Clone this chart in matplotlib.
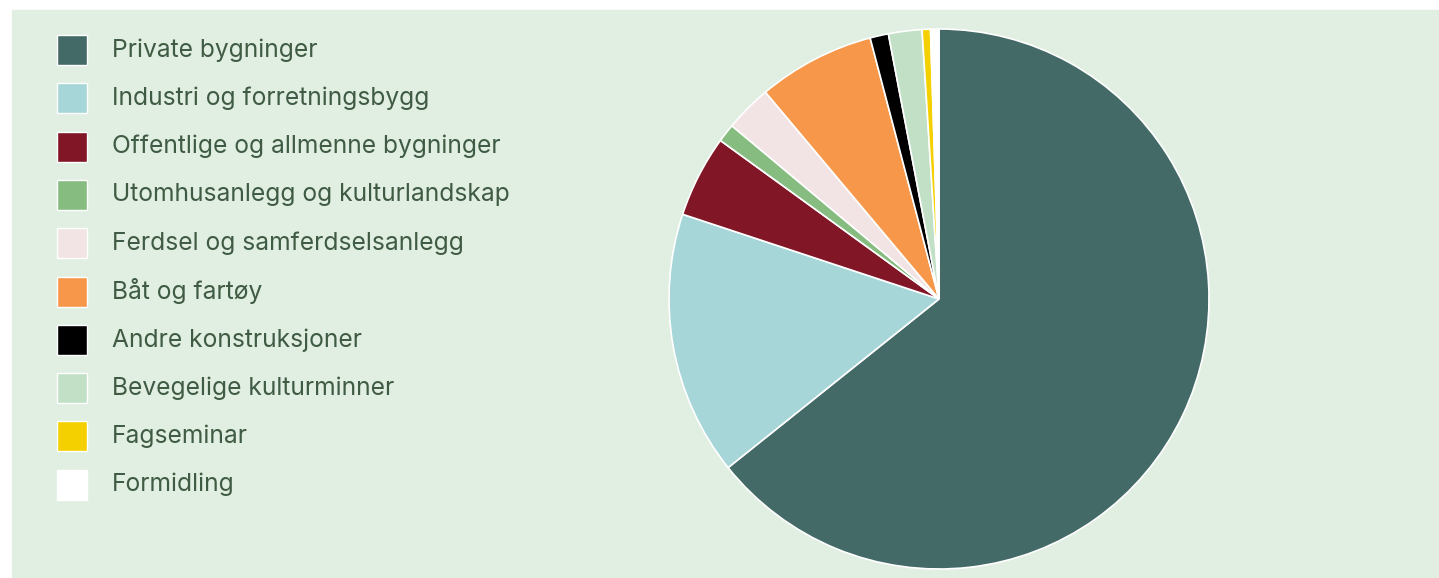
import matplotlib
matplotlib.use('Agg')
import matplotlib.pyplot as plt
from matplotlib.patches import Rectangle

# andel per kategori (prosent, lest av figuren)
labels = ['Private bygninger', 'Industri og forretningsbygg',
          'Offentlige og allmenne bygninger', 'Utomhusanlegg og kulturlandskap',
          'Ferdsel og samferdselsanlegg', 'Båt og fartøy', 'Andre konstruksjoner',
          'Bevegelige kulturminner', 'Fagseminar', 'Formidling']
values = [64.2, 15.8, 4.9, 1.1, 2.8, 7.0, 1.1, 2.0, 0.5, 0.5]
colors = ['#446a68', '#a6d6d8', '#811627', '#86bc7f', '#f2e4e4',
          '#f69749', '#000000', '#c2e0c6', '#f5d000', '#ffffff']

W, H = 1439, 578
bg = '#e1eee2'
txt = '#3f5b43'

fig = plt.figure(figsize=(W / 100, H / 100), dpi=100, facecolor='white')
fig.patches.append(Rectangle((12 / W, 0), 1 - 12 / W, (H - 10) / H,
                             transform=fig.transFigure, color=bg, zorder=-5))

# pie, centre ~ (939, 299) px, radius 270 px
cx, cy, r = 939, H - 299, 270
ax = fig.add_axes([(cx - r) / W, (cy - r) / H, 2 * r / W, 2 * r / H])
ax.set_zorder(1)
ax.patch.set_visible(False)
ax.pie(values, colors=colors, startangle=90, counterclock=False, radius=1,
       wedgeprops=dict(edgecolor='white', linewidth=1.2))
ax.set_xlim(-1, 1)
ax.set_ylim(-1, 1)
ax.set_aspect('auto')
ax.axis('off')

# legend
for i, (lab, col) in enumerate(zip(labels, colors)):
    top = 35 + i * 48.3
    fig.patches.append(Rectangle((57 / W, 1 - (top + 30) / H), 30 / W, 30 / H,
                                 transform=fig.transFigure, facecolor=col,
                                 edgecolor='white', linewidth=1, zorder=2))
    fig.text(112 / W, 1 - (top + 15) / H, lab, fontsize=17.7, color=txt,
             family='Inter', va='center', ha='left')

fig.savefig('out.png', dpi=100, facecolor='white')
